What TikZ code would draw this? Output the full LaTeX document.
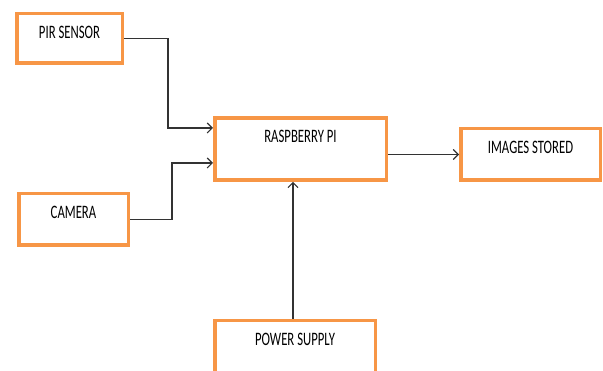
\documentclass[tikz,border=0pt]{standalone}
\usepackage{fontspec}
\setmainfont{Carlito}
\usepackage{graphicx}
\usetikzlibrary{
    arrows.meta,
    positioning
}
\definecolor{boxorange}{RGB}{247,150,70}
\newcommand{\narrowtext}[1]{\scalebox{0.67}[1]{#1}}
\tikzset{
    block/.style={
        draw=boxorange,
        line width=3.5pt,
        inner sep=0pt,
        text height=25pt,
        text=black,
        font=\fontsize{19}{21}\selectfont
    }
}
\tikzset{
    flow/.style={
        draw=black!80,
        line width=1.1pt,
        -{Straight Barb[length=5pt,width=10pt]}
    }
}

\begin{document}
\begin{tikzpicture}

\useasboundingbox (0,0) rectangle (603pt,-371pt);

\node[block, minimum width=171.5pt, text depth=37.25pt] (rpi)
    at (300.5pt,-149pt) {\narrowtext{RASPBERRY PI}};

\node[block, minimum width=139.5pt, text depth=26.5pt,
    right=71pt of rpi, yshift=-5.5pt] (store) {\narrowtext{IMAGES STORED}};
\node[block, minimum width=160.5pt, text depth=31pt,
    below=137pt of rpi, xshift=-5.5pt] (power) {\narrowtext{POWER SUPPLY}};
\node[block, minimum width=105.5pt, text depth=24.5pt,
    left=89pt of rpi, yshift=110.5pt] (pir) {\narrowtext{PIR SENSOR}};
\node[block, minimum width=109.5pt, text depth=26.5pt,
    left=83pt of rpi, yshift=-70.5pt] (camera) {\narrowtext{CAMERA}};

\draw[flow] (pir.east) -- ++(44pt,0) |- ([yshift=21pt]rpi.west);
\draw[flow] (camera.east) -- ++(42pt,0) |- ([yshift=-14pt]rpi.west);
\draw[flow] (rpi.east |- store) -- (store);
\draw[flow] ([xshift=-2pt]power.north) -- ([xshift=-2pt]power.north |- rpi.south);

\end{tikzpicture}
\end{document}
